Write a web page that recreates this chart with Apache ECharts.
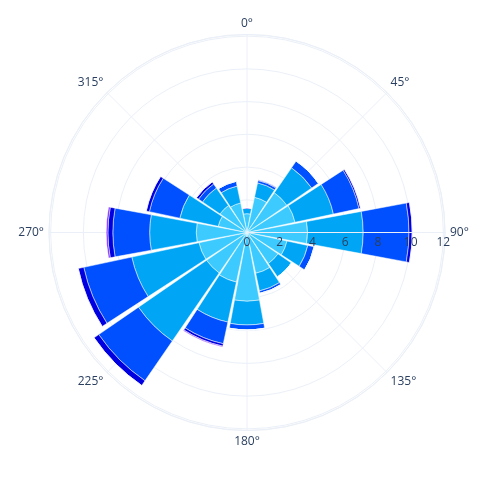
<!DOCTYPE html>
<html>
<head>
<meta charset="utf-8">
<script src="https://cdn.jsdelivr.net/npm/echarts@6/dist/echarts.min.js"></script>
<style>
  html, body { margin: 0; padding: 0; background: #fff; }
  #chart { width: 485px; height: 481px; }
</style>
</head>
<body>
<div id="chart"></div>
<script>
// Wind directions (categories)
const directions = ['N','NNE','NE','ENE','E','ESE','SE','SSE','S','SSW','SW','WSW','W','WNW','NW','NNW'];
// Stacked segment values per direction (inner to outer)
const seg1 = [1.15, 2.2, 2.95, 3.0, 3.7, 2.5, 2.3, 2.55, 4.2, 3.1, 3.0, 3.0, 3.1, 1.8, 2.0, 1.85];
const seg2 = [0.35, 0.9, 1.85, 2.4, 3.4, 1.3, 1.0, 1.1, 1.45, 2.5, 5.05, 4.2, 2.85, 2.4, 1.3, 1.05];
const seg3 = [0, 0.15, 0.5, 1.6, 2.8, 0.4, 0, 0.15, 0.3, 1.35, 2.95, 3.0, 2.25, 1.9, 0.3, 0.3];
const seg4 = [0, 0.05, 0, 0.1, 0.2, 0, 0, 0, 0, 0.15, 0.35, 0.35, 0.3, 0.2, 0.15, 0];
const seg5 = [0, 0, 0, 0, 0, 0, 0, 0, 0, 0.05, 0, 0, 0.1, 0, 0, 0];
// Angular tick labels (degrees) and radial ticks
const angleTicks = [0, 45, 90, 135, 180, 225, 270, 315];
const radialTicks = [0, 2, 4, 6, 8, 10, 12];

const segments = [seg1, seg2, seg3, seg4, seg5];
const colors = ['#3ccaff', '#00a6f5', '#0050ff', '#0000e0', '#7a1fff'];

const CENTER = [247, 232.5];
const RADIUS = 198;
const RMAX = 12.1;
const GRID = '#ebf0f8';
const TXT = '#2a3f5f';
const FONT = '"Open Sans", "Noto Sans", sans-serif';

const chart = echarts.init(document.getElementById('chart'), null, {renderer: 'canvas'});

const option = {
  backgroundColor: '#ffffff',
  animation: false,
  polar: [
    {center: CENTER, radius: RADIUS},
    {center: CENTER, radius: RADIUS},
    {center: CENTER, radius: RADIUS}
  ],
  angleAxis: [
    { // grid + labels
      polarIndex: 0, type: 'value', min: 0, max: 360, interval: 45,
      startAngle: 0, clockwise: true, z: 0,
      axisLine: {show: true, lineStyle: {color: GRID, width: 1}},
      axisTick: {show: false},
      splitLine: {show: true, lineStyle: {color: GRID, width: 1}},
      axisLabel: {
        color: TXT, fontSize: 12, fontFamily: FONT, margin: 5,
        formatter: function (v) {
          const b = (v + 90) % 360;
          return angleTicks.indexOf(b) >= 0 && v < 360 ? b + '°' : '';
        }
      }
    },
    { // bars
      polarIndex: 1, type: 'category', data: directions,
      startAngle: 101.25, clockwise: true, show: false
    },
    { // radial axis overlay
      polarIndex: 2, type: 'value', min: 0, max: 360, startAngle: 0,
      clockwise: true, show: false
    }
  ],
  radiusAxis: [
    {
      polarIndex: 0, type: 'value', min: 0, max: RMAX, interval: 2, z: 0,
      axisLine: {show: false}, axisTick: {show: false}, axisLabel: {show: false},
      splitLine: {show: true, lineStyle: {color: GRID, width: 1}}
    },
    {
      polarIndex: 1, type: 'value', min: 0, max: RMAX, show: false
    },
    {
      polarIndex: 2, type: 'value', min: 0, max: RMAX, interval: 2, z: 10,
      axisLine: {show: true, lineStyle: {color: GRID, width: 1}},
      axisTick: {show: false},
      splitLine: {show: false},
      axisLabel: {
        color: TXT, fontSize: 12, fontFamily: FONT, margin: -16,
        formatter: function (v) {
          return radialTicks.indexOf(Math.round(v * 1000) / 1000) >= 0 ? String(v) : '';
        }
      }
    }
  ],
  series: segments.map(function (d, i) {
    return {
      type: 'bar',
      coordinateSystem: 'polar',
      polarIndex: 1,
      stack: 'wind',
      data: d,
      barCategoryGap: '7%',
      z: 2,
      itemStyle: {color: colors[i], borderColor: '#ffffff', borderWidth: 0.5}
    };
  })
};

chart.setOption(option);
</script>
</body>
</html>
